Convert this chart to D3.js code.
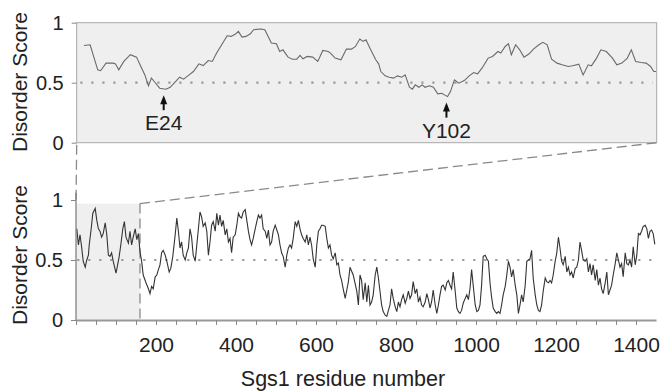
<!DOCTYPE html>
<html lang="en">
    <head>
        <meta charset="UTF-8">
        <style>
            html, body{
                margin: 0;
                padding: 0;
                background: #fff;
            }
            svg text{
                font-family: 'Liberation Sans', Arial, Helvetica, sans-serif;
                fill: #222;
            }
        </style>
    </head>
    <body>
        <svg id="chart" width="661" height="391"></svg>

        <script src="https://d3js.org/d3.v7.min.js"></script>
        <script>
            ////////////////////////////
            //// DATA ///
            ////////////////////////////

            // zoomed panel: residues 1-160
            const topResidue = [2,3.7,5.8,6.6,8.1,10.1,10.7,11.6,13,14.8,16.5,17.7,18.8,19.8,20.6,21.4,22.9,24.6,25.8,27,
                28.4,29.5,31,32.2,33.7,34.9,36.3,37.4,38.6,40,41.5,42.6,43.8,44.6,45.6,46.7,47.9,48.8,50.8,51.9,
                53.7,55.1,56,56.9,58.3,59.5,60.7,61.6,62.4,63.6,65.1,66.5,67.9,69.4,70,71.3,72.9,74.4,75.8,76.9,
                78.1,79,79.8,81,82.5,83.3,83.9,85.1,86.2,87.4,88.5,89.7,90.6,91.8,92.6,93.4,94.4,95.3,96.1,97.3,
                98.4,99.6,100.7,102.3,103.1,104.2,105.4,106.9,108.3,109.5,110.6,111.8,113.5,114.7,116.2,117,118.2,119.1,119.9,121.1,
                122.2,123.4,124.8,126,127.5,128.6,129.8,131,132.5,133.9,135.6,136.8,138.5,139.7,141.1,142,143.4,144.6,146.1,147.8,
                149,150.4,151.9,153,154.2,155.7,157.1,158.3,159.2,159.8]
            const topScore = [0.81,0.816,0.607,0.6,0.663,0.663,0.657,0.607,0.677,0.733,
                0.713,0.635,0.565,0.474,0.538,0.51,0.454,0.446,0.462,0.501,
                0.546,0.529,0.565,0.593,0.657,0.643,0.685,0.677,0.747,0.816,
                0.891,0.886,0.905,0.928,0.88,0.886,0.908,0.942,0.947,0.942,
                0.83,0.825,0.76,0.774,0.713,0.696,0.696,0.727,0.699,0.719,
                0.713,0.677,0.769,0.76,0.747,0.705,0.691,0.78,0.78,0.802,
                0.864,0.844,0.858,0.78,0.691,0.657,0.593,0.557,0.546,0.538,
                0.557,0.546,0.565,0.462,0.446,0.482,0.462,0.482,0.462,0.474,
                0.462,0.407,0.412,0.384,0.426,0.524,0.496,0.518,0.557,0.585,
                0.574,0.621,0.705,0.719,0.76,0.747,0.802,0.825,0.733,0.816,
                0.774,0.713,0.741,0.78,0.816,0.836,0.816,0.696,0.663,0.649,
                0.635,0.641,0.655,0.565,0.649,0.641,0.705,0.774,0.76,0.705,
                0.649,0.663,0.705,0.774,0.677,0.669,0.663,0.635,0.593,0.593]

            // full length Sgs1: [residue, disorder score]
            const fullProfile = [
                [2,.76],[6,.625],[10,.71],[14,.61],[18,.49],[23,.44],[27,.50],[31,.54],[33,.625],[38,.76],
                [42,.89],[48,.93],[52,.83],[56,.76],[60,.74],[64,.69],[68,.72],[73,.81],[77,.71],[81,.54],
                [85,.53],[89,.56],[93,.49],[100,.39],[103,.44],[108,.53],[112,.625],[117,.76],[121,.82],[125,.69],
                [131,.64],[135,.74],[139,.625],[143,.69],[148,.76],[152,.67],[156,.72],[160,.57],[164,.49],[168,.375],
                [175,.31],[181,.26],[185,.22],[189,.28],[193,.26],[198,.36],[202,.375],[206,.42],[210,.46],[214,.56],
                [218,.58],[223,.54],[227,.49],[233,.40],[237,.43],[242,.53],[248,.71],[252,.85],[256,.74],[260,.60],
                [264,.65],[268,.54],[273,.50],[277,.56],[281,.60],[285,.76],[289,.69],[293,.54],[298,.49],[302,.625],
                [306,.76],[310,.90],[314,.86],[318,.78],[323,.81],[327,.74],[331,.54],[335,.65],[339,.79],[343,.82],
                [348,.74],[352,.89],[356,.79],[360,.875],[364,.78],[368,.83],[373,.71],[377,.76],[381,.65],[385,.68],
                [389,.56],[393,.69],[398,.71],[402,.79],[406,.89],[410,.86],[414,.85],[418,.90],[423,.92],[427,.83],
                [431,.74],[435,.67],[439,.625],[443,.68],[448,.76],[452,.82],[456,.875],[460,.85],[464,.875],[468,.76],
                [473,.74],[477,.68],[481,.75],[485,.625],[489,.65],[493,.74],[498,.79],[502,.75],[506,.71],[510,.625],
                [514,.56],[518,.53],[523,.44],[527,.54],[531,.60],[535,.625],[539,.60],[543,.68],[548,.82],[552,.78],
                [556,.83],[560,.76],[564,.71],[568,.68],[573,.65],[577,.71],[581,.625],[585,.69],[589,.625],[593,.51],
                [598,.44],[602,.625],[606,.74],[610,.76],[614,.79],[618,.79],[623,.78],[627,.68],[631,.60],[635,.625],
                [639,.54],[643,.51],[648,.56],[652,.46],[656,.475],[660,.375],[664,.33],[668,.26],[673,.18],[677,.25],
                [681,.32],[685,.44],[693,.375],[702,.24],[706,.125],[710,.375],[714,.33],[718,.17],[723,.31],[727,.15],
                [731,.29],[735,.125],[739,.15],[743,.21],[748,.375],[752,.44],[756,.35],[760,.24],[764,.125],[768,.07],
                [773,.04],[777,.03],[781,.08],[785,.125],[789,.26],[793,.18],[798,.11],[802,.07],[806,.15],[810,.11],
                [814,.17],[818,.21],[823,.14],[827,.18],[831,.24],[835,.18],[839,.21],[843,.32],[848,.22],[852,.26],
                [856,.15],[860,.19],[864,.125],[868,.11],[873,.15],[877,.22],[881,.17],[885,.10],[889,.15],[893,.25],
                [898,.125],[902,.055],[906,.125],[910,.21],[914,.28],[918,.29],[923,.25],[927,.31],[931,.33],[935,.29],
                [939,.26],[943,.40],[948,.24],[952,.10],[956,.07],[960,.055],[964,.08],[968,.14],[973,.18],[977,.21],
                [981,.17],[985,.26],[989,.42],[993,.29],[998,.125],[1002,.07],[1006,.08],[1010,.125],[1014,.29],[1018,.53],
                [1023,.54],[1027,.51],[1031,.49],[1035,.31],[1039,.19],[1043,.10],[1048,.07],[1052,.055],[1056,.07],[1060,.055],
                [1064,.125],[1068,.21],[1073,.28],[1077,.375],[1081,.49],[1085,.44],[1089,.36],[1093,.42],[1098,.29],[1102,.21],
                [1106,.055],[1110,.125],[1114,.21],[1118,.15],[1123,.29],[1127,.49],[1131,.50],[1135,.51],[1139,.58],[1143,.35],
                [1148,.21],[1152,.125],[1156,.08],[1160,.07],[1164,.125],[1168,.24],[1173,.35],[1177,.32],[1181,.31],[1185,.33],
                [1189,.31],[1193,.375],[1198,.49],[1202,.56],[1206,.69],[1210,.60],[1214,.49],[1218,.46],[1223,.53],[1227,.40],
                [1231,.44],[1235,.375],[1239,.40],[1243,.35],[1248,.43],[1252,.44],[1256,.50],[1260,.65],[1264,.58],[1268,.50],
                [1273,.49],[1277,.51],[1281,.40],[1285,.47],[1289,.375],[1293,.46],[1298,.33],[1302,.42],[1306,.29],[1310,.35],
                [1314,.26],[1318,.22],[1323,.31],[1327,.40],[1331,.21],[1335,.25],[1339,.29],[1343,.375],[1348,.47],[1352,.56],
                [1356,.50],[1360,.44],[1364,.47],[1368,.36],[1373,.56],[1377,.47],[1381,.46],[1385,.50],[1389,.44],[1393,.61],
                [1398,.46],[1402,.54],[1406,.72],[1410,.71],[1414,.74],[1418,.78],[1423,.79],[1427,.76],[1431,.68],[1435,.74],
                [1439,.75],[1443,.72],[1447,.63]
            ]

            const markers = [
                {label: 'E24',  residue: 24,  score: 0.446},
                {label: 'Y102', residue: 102, score: 0.384}
            ]
            const yTicks = [0, 0.5, 1]
            const xTicks = d3.range(0, 1401, 50)
            const xTickLabels = [200, 400, 600, 800, 1000, 1200, 1400]
            const zoomRange = [0, 160]
            const zoomShadeTop = 0.97
            const threshold = 0.5

            ////////////////////////////
            //// SETUP               ///
            ////////////////////////////
            const svg = d3.select('#chart')

            const topX = d3.scaleLinear().domain(zoomRange).range([76.7, 656.7])
            const topY = d3.scaleLinear().domain([0, 1]).range([142.7, 22.7])
            const botX = d3.scaleLinear().domain([0, 1450]).range([76, 656])
            const botY = d3.scaleLinear().domain([0, 1]).range([320, 200])

            const fmt = d => d === 0.5 ? '0.5' : d3.format('d')(d)

            // 1. top panel box
            svg.append('rect')
                .attr('x', topX(zoomRange[0])).attr('y', topY(1))
                .attr('width', topX(zoomRange[1]) - topX(zoomRange[0]))
                .attr('height', topY(0) - topY(1))
                .attr('fill', '#efefef').attr('stroke', '#a8a8a8').attr('stroke-width', 1)

            // 2. bottom shaded zoom region
            svg.append('rect')
                .attr('x', botX(zoomRange[0])).attr('y', botY(zoomShadeTop))
                .attr('width', botX(zoomRange[1]) - botX(zoomRange[0]))
                .attr('height', botY(0) - botY(zoomShadeTop))
                .attr('fill', '#efefef')

            // 3. threshold dotted lines
            const dotted = g => g.attr('stroke', '#999').attr('stroke-width', 2.2)
                .attr('stroke-dasharray', '2.2,8.8').attr('fill', 'none')
            svg.append('line')
                .attr('x1', topX(1)).attr('x2', topX(zoomRange[1]) - 4)
                .attr('y1', topY(threshold)).attr('y2', topY(threshold)).call(dotted)
            svg.append('line')
                .attr('x1', botX(3)).attr('x2', botX(1447))
                .attr('y1', botY(threshold)).attr('y2', botY(threshold)).call(dotted)

            // 4. dashed connectors
            const dashed = g => g.attr('stroke', '#8a8a8a').attr('stroke-width', 1.3)
                .attr('stroke-dasharray', '10,5').attr('fill', 'none')
            svg.append('line')
                .attr('x1', topX(zoomRange[0])).attr('y1', topY(0) + 2)
                .attr('x2', botX(zoomRange[0])).attr('y2', botY(zoomShadeTop)).call(dashed)
            svg.append('line')
                .attr('x1', botX(zoomRange[1])).attr('y1', botY(zoomShadeTop))
                .attr('x2', topX(zoomRange[1])).attr('y2', topY(0)).call(dashed)
            svg.append('line')
                .attr('x1', botX(zoomRange[1])).attr('y1', botY(zoomShadeTop))
                .attr('x2', botX(zoomRange[1])).attr('y2', botY(0)).call(dashed)

            // 5. lines
            svg.append('path')
                .datum(d3.zip(topResidue, topScore))
                .attr('fill', 'none').attr('stroke', '#6a6a6a').attr('stroke-width', 1.1)
                .attr('d', d3.line().x(d => topX(d[0])).y(d => topY(d[1])))
            svg.append('path')
                .datum(fullProfile)
                .attr('fill', 'none').attr('stroke', '#333').attr('stroke-width', 1.1)
                .attr('d', d3.line().x(d => botX(d[0])).y(d => botY(d[1])))

            // 6. axes
            const styleAxis = g => {
                g.selectAll('.tick line').attr('stroke', '#888')
                g.selectAll('.tick text').attr('font-size', 20).attr('fill', '#222')
            }
            svg.append('g')
                .attr('transform', `translate(${topX(zoomRange[0])},0)`)
                .call(d3.axisLeft(topY).tickValues(yTicks).tickFormat(fmt).tickSize(5).tickPadding(8))
                .call(g => g.select('.domain').remove())
                .call(styleAxis)

            svg.append('g')
                .attr('transform', `translate(${botX(0)},0)`)
                .call(d3.axisLeft(botY).tickValues(yTicks).tickFormat(fmt).tickSize(5).tickPadding(8))
                .call(g => g.select('.domain').remove())
                .call(styleAxis)
            svg.append('line')
                .attr('x1', botX(0)).attr('x2', botX(0))
                .attr('y1', botY(0)).attr('y2', botY(1.06))
                .attr('stroke', '#777').attr('stroke-width', 1.2)

            svg.append('g')
                .attr('transform', `translate(0,${botY(0)})`)
                .call(d3.axisBottom(botX).tickValues(xTicks).tickSize(5).tickSizeOuter(0).tickPadding(12)
                    .tickFormat(d => xTickLabels.includes(d) ? d : ''))
                .call(g => g.select('.domain').attr('stroke', '#999').attr('stroke-width', 2))
                .call(styleAxis)
                .call(g => g.selectAll('.tick text').attr('font-size', 21))

            // 7. axis titles
            svg.append('text')
                .attr('transform', 'translate(27,82) rotate(-90)')
                .attr('text-anchor', 'middle').attr('font-size', 21)
                .text('Disorder Score')
            svg.append('text')
                .attr('transform', 'translate(27,255) rotate(-90)')
                .attr('text-anchor', 'middle').attr('font-size', 21)
                .text('Disorder Score')
            svg.append('text')
                .attr('x', 343).attr('y', 386)
                .attr('text-anchor', 'middle').attr('font-size', 21.5)
                .text('Sgs1 residue number')

            // 8. residue markers
            const mk = svg.append('g').selectAll('g').data(markers).join('g')
                .attr('transform', d => `translate(${topX(d.residue)},${topY(d.score) + 6})`)
            mk.append('path')
                .attr('d', 'M0,0 L-3.5,9 L3.5,9 Z').attr('fill', '#111')
            mk.append('line')
                .attr('x1', 0).attr('x2', 0).attr('y1', 8).attr('y2', 15)
                .attr('stroke', '#111').attr('stroke-width', 2)
            mk.append('text')
                .attr('y', 35).attr('text-anchor', 'middle').attr('font-size', 21)
                .text(d => d.label)
        </script>
    </body>
</html>
